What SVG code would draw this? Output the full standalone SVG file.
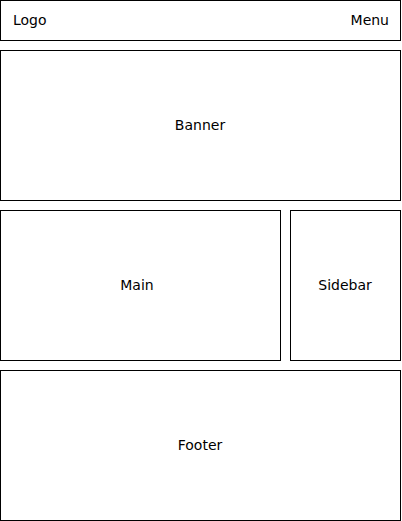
<svg xmlns="http://www.w3.org/2000/svg" width="402" height="521" viewBox="0 0 402 521">
<style>
rect{fill:#fff;stroke:#000;stroke-width:1}
text{font-family:"DejaVu Sans",sans-serif;font-size:14px;fill:#000;dominant-baseline:central}
.c{text-anchor:middle}
</style>
<rect x="0" y="0" width="402" height="521" style="stroke:none"/>
<g id="header"><rect x="0.5" y="0.5" width="400" height="40"/><text x="13" y="20">Logo</text><text x="389" y="20" text-anchor="end">Menu</text></g>
<g id="banner"><rect x="0.5" y="50.5" width="400" height="150"/><text class="c" x="200" y="125">Banner</text></g>
<g id="main"><rect x="0.5" y="210.5" width="280" height="150"/><text class="c" x="137" y="285">Main</text></g>
<g id="sidebar"><rect x="290.5" y="210.5" width="110" height="150"/><text class="c" x="345" y="285">Sidebar</text></g>
<g id="footer"><rect x="0.5" y="370.5" width="400" height="150"/><text class="c" x="200" y="445">Footer</text></g>
<g id="connectors"/>
</svg>
